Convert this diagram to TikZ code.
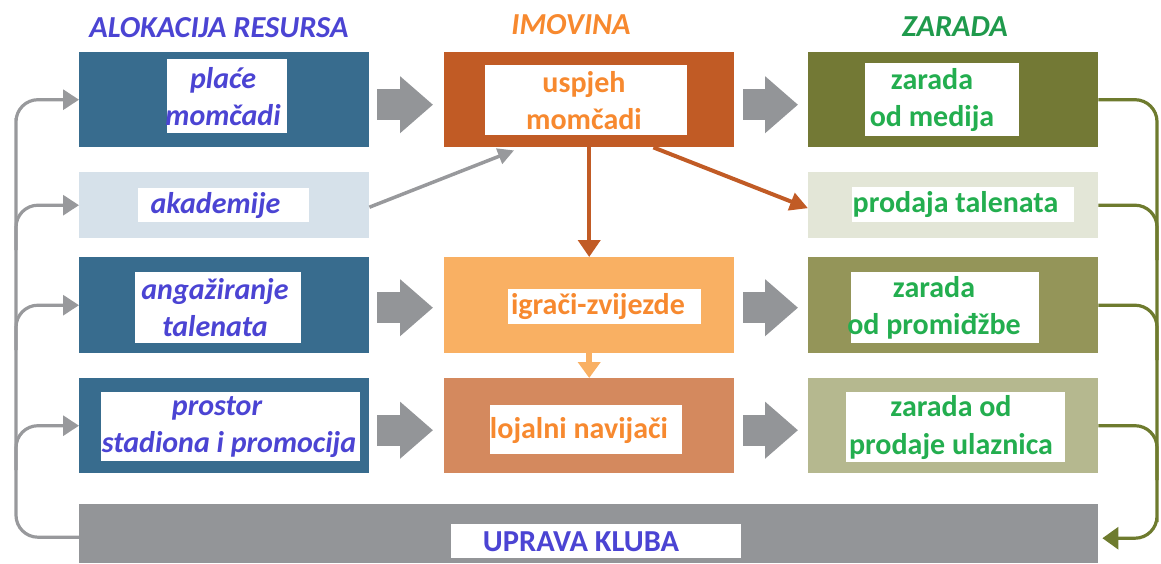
\documentclass[tikz,border=0pt]{standalone}
\usepackage{fontspec}
\setmainfont{Carlito}
\usetikzlibrary{arrows.meta,calc}
\definecolor{cBlueBox}{HTML}{386C8E}
\definecolor{cAkad}{HTML}{D6E1EA}
\definecolor{cUsp}{HTML}{C15B25}
\definecolor{cIgr}{HTML}{F9B063}
\definecolor{cLoj}{HTML}{D4895E}
\definecolor{cMed}{HTML}{737935}
\definecolor{cProd}{HTML}{E3E6D7}
\definecolor{cProm}{HTML}{949559}
\definecolor{cUlaz}{HTML}{B5B88F}
\definecolor{cGray}{HTML}{939598}
\definecolor{cLine}{HTML}{98999C}
\definecolor{cGreenLine}{HTML}{6E7B2E}
\definecolor{tBlue}{HTML}{4B44D3}
\definecolor{tOrange}{HTML}{F7892F}
\definecolor{tGreen}{HTML}{23AE4F}
\definecolor{tGreenTitle}{HTML}{1F9A4C}
\begin{document}
\begin{tikzpicture}[x=1pt,y=-1pt,
  outer/.style={anchor=north west,inner sep=0pt,minimum width=290pt,draw=none},
  wbox/.style={fill=white,inner sep=0pt,draw=none},
  ltxt/.style={text=tBlue,font=\fontsize{30}{37}\selectfont\bfseries\itshape,align=center,inner sep=0pt},
  mtxt/.style={text=tOrange,font=\fontsize{30}{37}\selectfont\bfseries,align=center,inner sep=0pt},
  rtxt/.style={text=tGreen,font=\fontsize{30}{37}\selectfont\bfseries,align=center,inner sep=0pt},
  title/.style={font=\fontsize{30.5}{34}\selectfont\bfseries\itshape,inner sep=0pt},
  blockarr/.style={draw=cGray,line width=31pt,-{Triangle[length=33pt,width=55pt]}},
  fbg/.style={draw=cLine,line width=3.2pt,rounded corners=22pt},
  fbgr/.style={draw=cGreenLine,line width=3.2pt,rounded corners=22pt}
]
\useasboundingbox (0,0) rectangle (1161,563);

% titles
\node[title,text=tBlue] (t1) at (219,28) {ALOKACIJA RESURSA};
\node[title,text=tOrange] (t2) at (571,25) {IMOVINA};
\node[title,text=tGreenTitle] (t3) at (955,27) {ZARADA};

% left column
\node[outer,fill=cBlueBox,minimum height=95pt] (A1) at (79,52) {};
\node[outer,fill=cAkad,minimum height=66pt] (A2) at (79,172) {};
\node[outer,fill=cBlueBox,minimum height=96pt] (A3) at (79,257) {};
\node[outer,fill=cBlueBox,minimum height=95pt] (A4) at (79,378) {};
\node[wbox,minimum width=120pt,minimum height=74pt] (A1w) at (227,96) {};
\node[wbox,minimum width=171pt,minimum height=34pt] (A2w) at (223.5,205) {};
\node[wbox,minimum width=166pt,minimum height=71pt] (A3w) at (218,307.5) {};
\node[wbox,minimum width=259pt,minimum height=69pt] (A4w) at (230.5,426.5) {};
\node[ltxt] (A1t) at (223,97) {plaće\\momčadi};
\node[ltxt] (A2t) at (215.5,206) {akademije};
\node[ltxt] (A3t) at (215,308) {angažiranje\\talenata};
\node[ltxt] (A4t) at (229,427) {prostor\hspace*{24pt}\\stadiona i promocija};

% middle column
\node[outer,fill=cUsp,minimum height=95pt] (B1) at (444,52) {};
\node[outer,fill=cIgr,minimum height=96pt] (B2) at (444,257) {};
\node[outer,fill=cLoj,minimum height=95pt] (B3) at (444,378) {};
\node[wbox,minimum width=202pt,minimum height=70pt] (B1w) at (586,100) {};
\node[wbox,minimum width=193pt,minimum height=35pt] (B2w) at (604.5,306.5) {};
\node[wbox,minimum width=192pt,minimum height=49pt] (B3w) at (586,429.5) {};
\node[mtxt] (B1t) at (584,101) {uspjeh\\momčadi};
\node[mtxt] (B2t) at (598,307) {igrači-zvijezde};
\node[mtxt] (B3t) at (579,430) {lojalni navijači};

% right column
\node[outer,fill=cMed,minimum height=95pt] (C1) at (808,52) {};
\node[outer,fill=cProd,minimum height=66pt] (C2) at (808,172) {};
\node[outer,fill=cProm,minimum height=96pt] (C3) at (808,257) {};
\node[outer,fill=cUlaz,minimum height=95pt] (C4) at (808,378) {};
\node[wbox,minimum width=154pt,minimum height=73pt] (C1w) at (942,99.5) {};
\node[wbox,minimum width=222pt,minimum height=35pt] (C2w) at (963,204.5) {};
\node[wbox,minimum width=188pt,minimum height=71pt] (C3w) at (945,307.5) {};
\node[wbox,minimum width=219pt,minimum height=70pt] (C4w) at (955.5,427) {};
\node[rtxt] (C1t) at (932,100) {zarada\\od medija};
\node[rtxt] (C2t) at (955.5,205) {prodaja talenata};
\node[rtxt] (C3t) at (934,308) {zarada\\od promiđžbe};
\node[rtxt] (C4t) at (951,427.5) {zarada od\\prodaje ulaznica};

% bottom bar
\node[anchor=north west,inner sep=0pt,fill=cGray,minimum width=1019pt,minimum height=59pt] (U) at (79,504) {};
\node[wbox,minimum width=290pt,minimum height=34pt] (Uw) at (596,541) {};
\node[text=tBlue,font=\fontsize{30.5}{37}\selectfont\bfseries,inner sep=0pt] (Ut) at (581,542) {UPRAVA KLUBA};

% block arrows
\draw[blockarr] ([xshift=8pt,yshift=-5pt]A1.east) -- ([xshift=-11pt,yshift=-5pt]B1.west);
\draw[blockarr] ([xshift=8pt,yshift=-2.5pt]A3.east) -- ([xshift=-11pt,yshift=-2.5pt]B2.west);
\draw[blockarr] ([xshift=8pt,yshift=-4.5pt]A4.east) -- ([xshift=-11pt,yshift=-4.5pt]B3.west);
\draw[blockarr] ([xshift=9pt,yshift=-5pt]B1.east) -- ([xshift=-10pt,yshift=-5pt]C1.west);
\draw[blockarr] ([xshift=9pt,yshift=-2.5pt]B2.east) -- ([xshift=-10pt,yshift=-2.5pt]C3.west);
\draw[blockarr] ([xshift=9pt,yshift=-4.5pt]B3.east) -- ([xshift=-10pt,yshift=-4.5pt]C4.west);

% thin arrows
\draw[draw=cLine,line width=3.5pt,-{Triangle[length=16pt,width=16pt]}] ([yshift=-2pt]A2.east) -- ($(B1.south west)+(70,3)$);
\draw[draw=cUsp,line width=4pt,-{Triangle[length=17pt,width=22pt]}] (B1.south) -- (B2.north);
\draw[draw=cUsp,line width=4pt,-{Triangle[length=18pt,width=18pt]}] ($(B1.south east)+(-81,0)$) -- ([yshift=-3pt]C2.west);
\draw[draw=cIgr,line width=6pt,-{Triangle[length=16pt,width=22pt]}] (B2.south) -- (B3.north);

% left feedback
\draw[fbg,-{Triangle[length=16pt,width=20pt]}] ([yshift=-3.5pt]U.west) -| (16,140) |- (A1.west);
\draw[fbg,-{Triangle[length=16pt,width=20pt]}] (16,250) |- (A2.west);
\draw[fbg,-{Triangle[length=16pt,width=20pt]}] (16,350) |- (A3.west);
\draw[fbg,-{Triangle[length=16pt,width=20pt]}] (16,470) |- (A4.west);

% right feedback
\draw[fbgr,-{Triangle[length=16pt,width=22pt]}] (C1.east) -| (1157,500) |- ([xshift=4pt,yshift=-4.5pt]U.east);
\draw[fbgr] (C2.east) -| (1157,260);
\draw[fbgr] (C3.east) -| (1157,360);
\draw[fbgr] (C4.east) -| (1157,480);
\end{tikzpicture}
\end{document}
